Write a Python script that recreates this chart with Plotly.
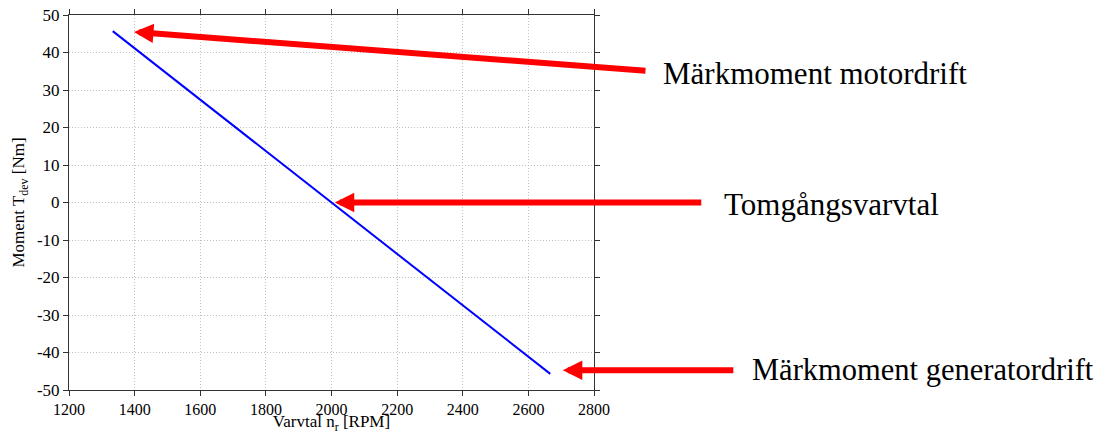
import plotly.graph_objects as go

# Data
speed_rpm = [1333.3, 2000.0, 2666.7]
torque_nm = [45.7, 0.0, -45.7]

x_ticks = [1200, 1400, 1600, 1800, 2000, 2200, 2400, 2600, 2800]
y_ticks = [-50, -40, -30, -20, -10, 0, 10, 20, 30, 40, 50]
y_tick_text = ["-50", "-40", "-30", "-20", "-10", "0", "10", "20", "30", "40", "50"]

labels = ["Märkmoment motordrift", "Tomgångsvarvtal", "Märkmoment generatordrift"]
arrow_heads_x = [1398, 2010, 2705]
arrow_heads_y = [45.5, 0.0, -44.7]

FONT = "Liberation Serif"

fig = go.Figure()
fig.add_trace(go.Scatter(x=speed_rpm, y=torque_nm, mode="lines",
                         line=dict(color="#0000ff", width=2), showlegend=False,
                         hoverinfo="skip"))

axis_common = dict(
    showline=True, linecolor="#333333", linewidth=1, mirror="ticks",
    ticks="outside", ticklen=5, tickcolor="#333333",
    showgrid=True, gridcolor="#c0c0c0", griddash="1px,2px", gridwidth=1,
    zeroline=False, automargin=False, ticklabeloverflow="allow",
)

fig.update_xaxes(range=[1200, 2800], tickvals=x_ticks, ticktext=[str(v) for v in x_ticks],
                 tickfont=dict(family=FONT, size=16, color="#000"),
                 title=dict(text="Varvtal n<sub>r</sub> [RPM]", font=dict(family=FONT, size=17, color="#000"), standoff=8),
                 **axis_common)
fig.update_yaxes(range=[-50, 50], tickvals=y_ticks, ticktext=y_tick_text,
                 tickfont=dict(family=FONT, size=17, color="#000"),
                 title=dict(text="Moment T<sub>dev</sub> [Nm]", font=dict(family=FONT, size=17, color="#000"), standoff=7),
                 **axis_common)

# arrows (tail offsets in pixels relative to head)
tail_offsets = [(513, 39), (368, 0), (172, 0)]
for hx, hy, (ax, ay) in zip(arrow_heads_x, arrow_heads_y, tail_offsets):
    fig.add_annotation(x=hx, y=hy, xref="x", yref="y", text="",
                       showarrow=True, ax=ax, ay=ay, axref="pixel", ayref="pixel",
                       arrowhead=2, arrowsize=0.65, arrowwidth=6, arrowcolor="#ff0000",
                       standoff=0, startstandoff=0)

# labels
label_pos = [(1.127, 0.843), (1.244, 0.496), (1.297, 0.053)]
label_sizes = [31, 31, 30.5]
for txt, (px, py), fs in zip(labels, label_pos, label_sizes):
    fig.add_annotation(x=px, y=py, xref="paper", yref="paper", text=txt,
                       showarrow=False, xanchor="left", yanchor="middle",
                       font=dict(family=FONT, size=fs, color="#000"))

fig.update_layout(
    width=1090, height=426,
    margin=dict(l=61, r=504, t=7, b=44),
    plot_bgcolor="white", paper_bgcolor="white",
    font=dict(family=FONT, size=16, color="#000"),
)

fig.write_html("out.html")
